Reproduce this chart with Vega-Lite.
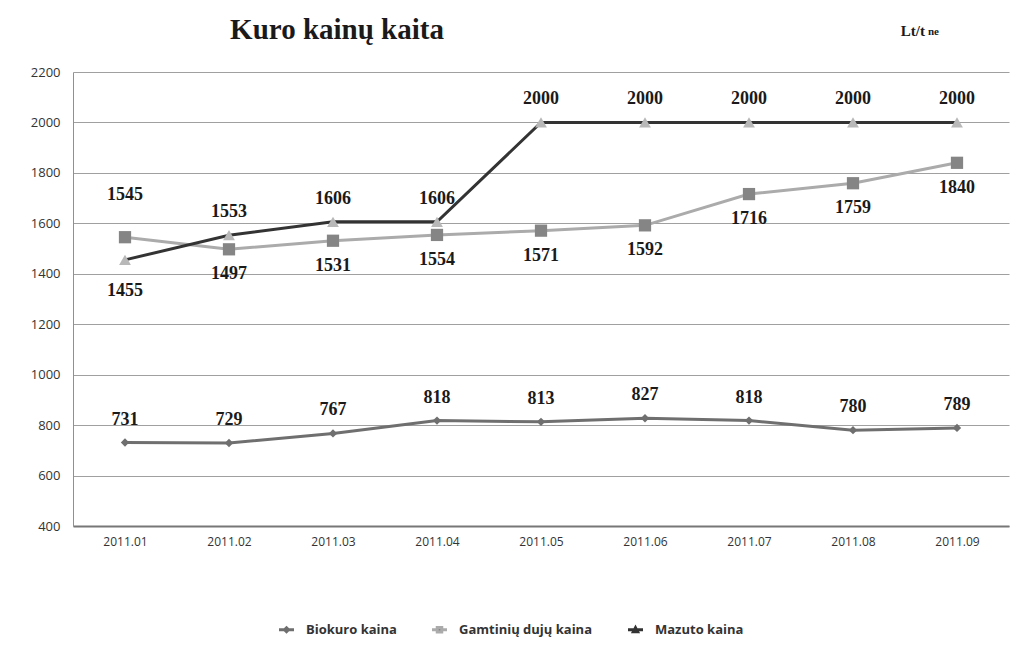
{
  "$schema": "https://vega.github.io/schema/vega-lite/v6.json",
  "width": 936,
  "height": 454,
  "autosize": {"type": "none"},
  "padding": {"left": 73, "top": 72, "right": 7, "bottom": 129},
  "background": "#ffffff",
  "datasets": {
    "prices": [
      {"month": "2011.01", "series": "Biokuro kaina", "value": 731},
      {"month": "2011.02", "series": "Biokuro kaina", "value": 729},
      {"month": "2011.03", "series": "Biokuro kaina", "value": 767},
      {"month": "2011.04", "series": "Biokuro kaina", "value": 818},
      {"month": "2011.05", "series": "Biokuro kaina", "value": 813},
      {"month": "2011.06", "series": "Biokuro kaina", "value": 827},
      {"month": "2011.07", "series": "Biokuro kaina", "value": 818},
      {"month": "2011.08", "series": "Biokuro kaina", "value": 780},
      {"month": "2011.09", "series": "Biokuro kaina", "value": 789},
      {"month": "2011.01", "series": "Gamtinių dujų kaina", "value": 1545},
      {"month": "2011.02", "series": "Gamtinių dujų kaina", "value": 1497},
      {"month": "2011.03", "series": "Gamtinių dujų kaina", "value": 1531},
      {"month": "2011.04", "series": "Gamtinių dujų kaina", "value": 1554},
      {"month": "2011.05", "series": "Gamtinių dujų kaina", "value": 1571},
      {"month": "2011.06", "series": "Gamtinių dujų kaina", "value": 1592},
      {"month": "2011.07", "series": "Gamtinių dujų kaina", "value": 1716},
      {"month": "2011.08", "series": "Gamtinių dujų kaina", "value": 1759},
      {"month": "2011.09", "series": "Gamtinių dujų kaina", "value": 1840},
      {"month": "2011.01", "series": "Mazuto kaina", "value": 1455},
      {"month": "2011.02", "series": "Mazuto kaina", "value": 1553},
      {"month": "2011.03", "series": "Mazuto kaina", "value": 1606},
      {"month": "2011.04", "series": "Mazuto kaina", "value": 1606},
      {"month": "2011.05", "series": "Mazuto kaina", "value": 2000},
      {"month": "2011.06", "series": "Mazuto kaina", "value": 2000},
      {"month": "2011.07", "series": "Mazuto kaina", "value": 2000},
      {"month": "2011.08", "series": "Mazuto kaina", "value": 2000},
      {"month": "2011.09", "series": "Mazuto kaina", "value": 2000}
    ],
    "notes": [
      {"month": "2011.03", "value": 2365, "label": "Kuro kainų kaita", "kind": "title"},
      {"month": "2011.09", "value": 2365, "label": "Lt/t", "kind": "unit"},
      {"month": "2011.09", "value": 2365, "label": "ne", "kind": "unitsub"}
    ]
  },
  "data": {"name": "prices"},
  "encoding": {
    "x": {
      "field": "month",
      "type": "ordinal",
      "scale": {"type": "point", "padding": 0.5},
      "axis": {
        "title": null,
        "labelAngle": 0,
        "ticks": false,
        "grid": false,
        "domainColor": "#777777",
        "domainWidth": 2,
        "labelFont": "Open Sans",
        "labelFontSize": 12,
        "labelColor": "#333333",
        "labelPadding": 10
      }
    },
    "y": {
      "field": "value",
      "type": "quantitative",
      "scale": {"domain": [400, 2200], "nice": false, "zero": false},
      "axis": {
        "title": null,
        "values": [400, 600, 800, 1000, 1200, 1400, 1600, 1800, 2000, 2200],
        "format": "d",
        "ticks": false,
        "grid": true,
        "gridColor": "#a0a0a0",
        "gridWidth": 1,
        "domainColor": "#909090",
        "labelFont": "Open Sans",
        "labelFontSize": 13,
        "labelColor": "#333333",
        "labelPadding": 13
      }
    }
  },
  "layer": [
    {
      "mark": {"type": "line", "strokeWidth": 3},
      "encoding": {
        "stroke": {
          "field": "series",
          "type": "nominal",
          "scale": {
            "domain": ["Biokuro kaina", "Gamtinių dujų kaina", "Mazuto kaina"],
            "range": ["#6f6f6f", "#ababab", "#333333"]
          },
          "legend": {
            "title": null,
            "orient": "none",
            "legendX": 197,
            "legendY": 541,
            "direction": "horizontal",
            "symbolType": "stroke",
            "symbolStrokeWidth": 3,
            "symbolSize": 900,
            "labelFont": "Open Sans",
            "labelFontSize": 13,
            "labelFontWeight": "bold",
            "labelColor": "#333333",
            "columnPadding": 26,
            "labelOffset": 3,
            "encode": {
              "symbols": {
                "update": {
                  "shape": {"signal": "datum.value == 'Biokuro kaina' ? 'M-0.5,0H-0.13M0.13,0H0.5M0,-0.13L0.13,0L0,0.13L-0.13,0Z' : datum.value == 'Gamtinių dujų kaina' ? 'M-0.5,0H-0.15M0.15,0H0.5M-0.15,-0.15H0.15V0.15H-0.15Z' : 'M-0.5,0H-0.14M0.14,0H0.5M0,-0.14L0.14,0.12H-0.14Z'"},
                  "fill": {"signal": "datum.value == 'Biokuro kaina' ? '#6f6f6f' : datum.value == 'Gamtinių dujų kaina' ? '#858585' : '#b8b8b8'"},
                  "strokeWidth": {"value": 3}
                }
              }
            }
          }
        }
      }
    },
    {
      "transform": [{"filter": "datum.series == 'Biokuro kaina'"}],
      "mark": {"type": "point", "shape": "diamond", "filled": true, "opacity": 1, "size": 70, "color": "#6f6f6f"}
    },
    {
      "transform": [{"filter": "datum.series == 'Gamtinių dujų kaina'"}],
      "mark": {"type": "point", "shape": "square", "filled": true, "opacity": 1, "size": 150, "color": "#858585"}
    },
    {
      "transform": [{"filter": "datum.series == 'Mazuto kaina'"}],
      "mark": {"type": "point", "shape": "triangle-up", "filled": true, "opacity": 1, "size": 140, "color": "#b8b8b8"}
    },
    {
      "transform": [{"filter": "datum.series == 'Biokuro kaina' || (datum.series == 'Mazuto kaina' && datum.month != '2011.01')"}],
      "mark": {"type": "text", "dy": -23, "font": "Liberation Serif", "fontSize": 18, "fontWeight": "bold", "color": "#1a1a1a"},
      "encoding": {"text": {"field": "value", "type": "quantitative"}}
    },
    {
      "transform": [{"filter": "datum.series == 'Gamtinių dujų kaina' && datum.month != '2011.01'"}],
      "mark": {"type": "text", "dy": 25, "font": "Liberation Serif", "fontSize": 18, "fontWeight": "bold", "color": "#1a1a1a"},
      "encoding": {"text": {"field": "value", "type": "quantitative"}}
    },
    {
      "transform": [{"filter": "datum.series == 'Gamtinių dujų kaina' && datum.month == '2011.01'"}],
      "mark": {"type": "text", "dy": -42, "font": "Liberation Serif", "fontSize": 18, "fontWeight": "bold", "color": "#1a1a1a"},
      "encoding": {"text": {"field": "value", "type": "quantitative"}}
    },
    {
      "transform": [{"filter": "datum.series == 'Mazuto kaina' && datum.month == '2011.01'"}],
      "mark": {"type": "text", "dy": 31, "font": "Liberation Serif", "fontSize": 18, "fontWeight": "bold", "color": "#1a1a1a"},
      "encoding": {"text": {"field": "value", "type": "quantitative"}}
    },
    {
      "data": {"name": "notes"},
      "transform": [{"filter": "datum.kind == 'title'"}],
      "mark": {"type": "text", "dx": 4, "font": "Liberation Serif", "fontSize": 29, "fontWeight": "bold", "color": "#1a1a1a"},
      "encoding": {"text": {"field": "label"}}
    },
    {
      "data": {"name": "notes"},
      "transform": [{"filter": "datum.kind == 'unit'"}],
      "mark": {"type": "text", "align": "right", "dx": -32, "dy": 1, "font": "Liberation Serif", "fontSize": 15, "fontWeight": "bold", "color": "#1a1a1a"},
      "encoding": {"text": {"field": "label"}}
    },
    {
      "data": {"name": "notes"},
      "transform": [{"filter": "datum.kind == 'unitsub'"}],
      "mark": {"type": "text", "align": "left", "dx": -29, "dy": 2, "font": "Liberation Serif", "fontSize": 11, "fontWeight": "bold", "color": "#1a1a1a"},
      "encoding": {"text": {"field": "label"}}
    }
  ],
  "config": {
    "view": {"stroke": null}
  }
}
